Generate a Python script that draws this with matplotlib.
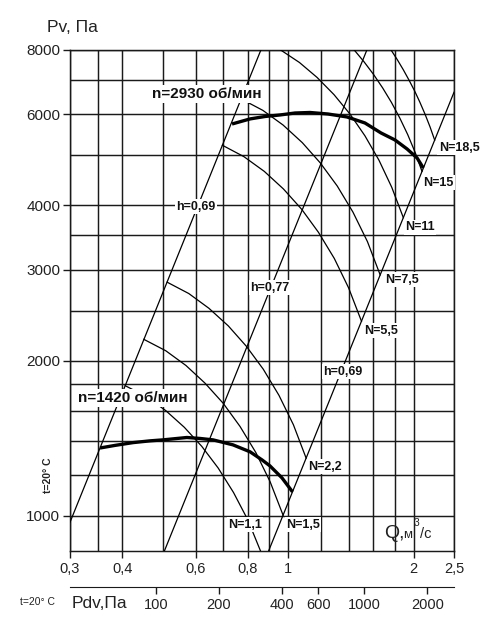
import numpy as np
import matplotlib
matplotlib.use("Agg")
import matplotlib.pyplot as plt

plt.rcParams['font.family'] = ['Liberation Sans', 'DejaVu Sans']

# ---------------- data ----------------
q_grid = [0.3, 0.35, 0.4, 0.5, 0.6, 0.7, 0.8, 0.9, 1.0, 1.2, 1.4, 1.6, 1.8, 2.0, 2.5]
q_ticks = [0.3, 0.4, 0.6, 0.8, 1.0, 2.0, 2.5]
q_ticklabels = ["0,3", "0,4", "0,6", "0,8", "1", "2", "2,5"]
p_grid = [1000, 1200, 1400, 1600, 1800, 2000, 2500, 3000, 3500, 4000, 5000, 6000, 7000, 8000]
p_ticks = [1000, 2000, 3000, 4000, 6000, 8000]
pdv_ticks = [100, 200, 400, 600, 1000, 2000]

# fan curves (Q m3/s, Pv Pa)
q_2930 = [0.734, 0.811, 0.881, 0.956, 1.039, 1.129, 1.247, 1.385, 1.529, 1.671, 1.805, 1.929, 2.039, 2.11]
p_2930 = [5750, 5882, 5946, 5986, 6039, 6053, 6012, 5933, 5776, 5524, 5354, 5144, 4941, 4726]
q_1420 = [0.354, 0.385, 0.425, 0.467, 0.501, 0.572, 0.615, 0.661, 0.738, 0.811, 0.866, 0.905, 0.967, 1.025]
p_1420 = [1354, 1370, 1387, 1398, 1404, 1419, 1413, 1404, 1373, 1331, 1284, 1250, 1185, 1113]

# efficiency lines (end points)
q_h069a = [0.3, 0.8607]
p_h069a = [972, 8000]
q_h077 = [0.5052, 1.5453]
p_h077 = [855, 8000]
q_h069b = [0.8981, 2.5]
p_h069b = [855, 6625]

# power lines N, kW
q_n11 = [0.407, 0.457, 0.509, 0.564, 0.621, 0.680, 0.740, 0.801, 0.859]
p_n11 = [1788, 1703, 1600, 1485, 1364, 1238, 1110, 982, 855]
q_n15 = [0.451, 0.509, 0.569, 0.632, 0.699, 0.767, 0.837, 0.906, 0.973]
p_n15 = [2199, 2090, 1957, 1809, 1653, 1491, 1327, 1164, 1003]
q_n22 = [0.513, 0.578, 0.646, 0.719, 0.794, 0.872, 0.951, 1.030, 1.105]
p_n22 = [2838, 2698, 2526, 2335, 2133, 1925, 1713, 1502, 1294]
q_n55 = [0.696, 0.784, 0.877, 0.975, 1.078, 1.183, 1.291, 1.397, 1.500]
p_n55 = [5229, 4969, 4654, 4302, 3930, 3545, 3155, 2767, 2384]
q_n75 = [0.772, 0.870, 0.973, 1.082, 1.195, 1.312, 1.431, 1.550, 1.663]
p_n75 = [6430, 6111, 5723, 5290, 4832, 4360, 3880, 3402, 2932]
q_n110 = [0.960, 1.065, 1.174, 1.289, 1.408, 1.529, 1.652, 1.773, 1.890]
p_n110 = [8000, 7566, 7077, 6554, 6010, 5454, 4892, 4334, 3785]
q_n150 = [1.441, 1.521, 1.603, 1.686, 1.770, 1.853, 1.936, 2.017, 2.095]
p_n150 = [8000, 7591, 7175, 6754, 6330, 5907, 5485, 5067, 4654]
q_n185 = [1.766, 1.827, 1.888, 1.949, 2.011, 2.071, 2.131, 2.190, 2.247]
p_n185 = [8000, 7667, 7334, 7000, 6667, 6335, 6005, 5677, 5352]

# ---------------- figure ----------------
W, H = 500, 644
fig = plt.figure(figsize=(W / 100, H / 100), dpi=100)
L, R, T, B = 70, 454, 50, 551
ax = fig.add_axes([L / W, 1 - B / H, (R - L) / W, (B - T) / H])
ax.set_xscale('log')
ax.set_yscale('log')
ax.set_xlim(0.3, 2.5)
ax.set_ylim(855, 8000)

gc = '#1a1a1a'
for q in q_grid:
    ax.axvline(q, color=gc, lw=1.05, zorder=1)
for p in p_grid:
    ax.axhline(p, color=gc, lw=1.05, zorder=1)

ax.set_xticks(q_ticks)
ax.set_xticklabels(q_ticklabels)
ax.set_yticks(p_ticks)
ax.set_yticklabels([str(v) for v in p_ticks])
ax.xaxis.set_minor_locator(matplotlib.ticker.NullLocator())
ax.yaxis.set_minor_locator(matplotlib.ticker.NullLocator())
ax.tick_params(axis='x', direction='out', length=5, width=1, color=gc,
               labelsize=10.5, pad=3, labelcolor='#222222')
ax.tick_params(axis='y', direction='out', length=5, width=1, color=gc,
               labelsize=11, pad=2, labelcolor='#222222')
for s in ax.spines.values():
    s.set_color(gc)
    s.set_linewidth(1.05)

lc = 'black'
for qq, pp in [(q_h069a, p_h069a), (q_h077, p_h077), (q_h069b, p_h069b)]:
    ax.plot(qq, pp, color=lc, lw=0.9, zorder=3)
for qq, pp in [(q_n11, p_n11), (q_n15, p_n15), (q_n22, p_n22), (q_n55, p_n55),
               (q_n75, p_n75), (q_n110, p_n110), (q_n150, p_n150), (q_n185, p_n185)]:
    ax.plot(qq, pp, color=lc, lw=0.9, zorder=3)

ax.plot(q_2930, p_2930, color='black', lw=2.4, zorder=4, solid_capstyle='butt',
        solid_joinstyle='round')
ax.plot(q_1420, p_1420, color='black', lw=2.4, zorder=4, solid_capstyle='butt',
        solid_joinstyle='round')

box = dict(boxstyle='square,pad=0.12', fc='white', ec='none')
def lab(q, p, s, size=9, ha='center', weight='bold'):
    ax.text(q, p, s, fontsize=size, ha=ha, va='center', weight=weight,
            color='#111111', bbox=box, zorder=6)

lab(0.601, 3970, "h=0,69")
lab(0.905, 2769, "h=0,77")
lab(1.353, 1901, "h=0,69")
lab(0.639, 6575, "n=2930 об/мин", size=11)
lab(0.425, 1694, "n=1420 об/мин", size=11)
lab(2.30, 5167, "N=18,5", ha='left')
lab(2.107, 4424, "N=15", ha='left')
lab(1.909, 3630, "N=11", ha='left')
lab(1.706, 2867, "N=7,5", ha='left')
lab(1.52, 2284, "N=5,5", ha='left')
lab(1.117, 1245, "N=2,2", ha='left')
lab(0.989, 961, "N=1,5", ha='left')
lab(0.718, 961, "N=1,1", ha='left')

# secondary dynamic-pressure scale (Pdv ~ Q^2)
k_pdv = 430.0
ax2 = fig.add_axes([L / W, 1 - 587 / H, (R - L) / W, 0.0001])
ax2.set_xscale('log')
ax2.set_xlim(k_pdv * 0.3 ** 2, k_pdv * 2.5 ** 2)
ax2.set_yticks([])
ax2.set_xticks(pdv_ticks)
ax2.set_xticklabels([str(v) for v in pdv_ticks])
ax2.xaxis.set_minor_locator(matplotlib.ticker.NullLocator())
ax2.tick_params(axis='x', direction='out', length=5, width=1, color=gc,
                labelsize=10.5, pad=3, labelcolor='#222222')
for name, s in ax2.spines.items():
    s.set_visible(name == 'bottom')
ax2.spines['bottom'].set_color(gc)
ax2.patch.set_visible(False)

# axis titles
tc = '#222222'
fig.text(47 / W, 1 - 28 / H, "Pv, Па", fontsize=12.5, ha='left', va='center', color=tc)
fig.text(384 / W, 1 - 533 / H, "Q,", fontsize=14, ha='left', va='center', color=tc)
fig.text(403 / W, 1 - 535 / H, "м", fontsize=9.5, ha='left', va='center', color=tc)
fig.text(414 / W, 1 - 523 / H, "3", fontsize=7.5, ha='left', va='center', color=tc)
fig.text(420 / W, 1 - 534 / H, "/с", fontsize=10.5, ha='left', va='center', color=tc)
fig.text(72 / W, 1 - 603 / H, "Pdv,Па", fontsize=12.5, ha='left', va='center', color=tc)
fig.text(48 / W, 1 - 475 / H, "t=20° C", fontsize=7.5, ha='center', va='center',
         rotation=90, weight='bold', color=tc)
fig.text(20 / W, 1 - 602 / H, "t=20° C", fontsize=7.5, ha='left', va='center', color=tc)

fig.savefig("out.png", dpi=100)
